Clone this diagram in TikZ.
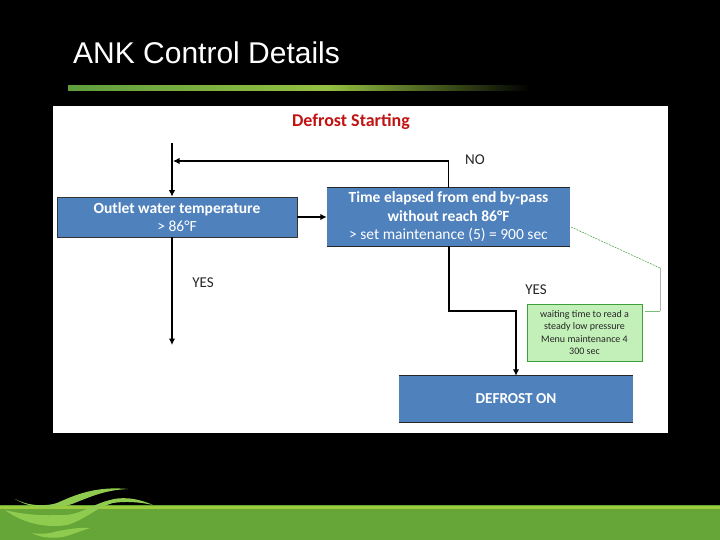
\documentclass[tikz,border=0pt]{standalone}
\usepackage{fontspec}
\setmainfont{Carlito}
\newfontfamily\titlefont{Liberation Sans}
\usepackage{xcolor}
\definecolor{ankblue}{RGB}{79,129,189}
\definecolor{ankgreen}{RGB}{195,240,185}
\definecolor{ankedge}{RGB}{60,160,60}
\definecolor{ankred}{RGB}{192,20,20}
\definecolor{ankband}{RGB}{102,165,55}
\definecolor{ankstrip}{RGB}{156,203,59}
\definecolor{ankswoosh}{RGB}{143,203,79}
\definecolor{ankbar}{RGB}{95,158,63}
\definecolor{ankbarmid}{RGB}{149,193,65}
\usetikzlibrary{arrows.meta,positioning,calc}
\tikzset{
  bluebox/.style={fill=ankblue,text=white,align=center,inner sep=0pt,font=\fontsize{15.5}{18.5}\selectfont},
  flowline/.style={-{Latex[length=6.5pt,width=6.5pt]},black,line width=1.5pt},
  mainline/.style={-{Latex[length=6.5pt,width=6.5pt]},black,line width=2pt},
  answer/.style={font=\fontsize{15}{16}\selectfont,text=black!85}
}
\begin{document}
\begin{tikzpicture}[x=1pt,y=-1pt]
  \useasboundingbox (0,0) rectangle (720,540);
  \fill[black] (0,0) rectangle (720,540);
  \node[font=\titlefont\fontsize{30}{34}\selectfont,text=white,anchor=west,inner sep=0pt] (title) at (73,53) {ANK Control Details};
  \shade[left color=ankbar,right color=ankbarmid] (68,86) rectangle (327,91);
  \shade[left color=ankbarmid,right color=black] (327,86) rectangle (530,91);
  \fill[white] (53,106) rectangle (668,433);
  \fill[ankband] (0,505) rectangle (720,540);
  \fill[ankstrip] (0,506) rectangle (720,509);
  \fill[ankswoosh] (15,499) .. controls (30,507) and (48,506) .. (57,503) .. controls (75,495) and (95,486) .. (128,489) .. controls (105,490) and (90,497) .. (77,502) .. controls (60,510) and (32,510) .. (15,499) -- cycle;
  \fill[ankswoosh] (5,510) .. controls (25,525) and (50,528) .. (67,525) .. controls (85,520) and (95,508) .. (113,503) .. controls (125,501) and (140,502) .. (153,505) .. controls (135,497) and (120,497) .. (110,500) .. controls (90,505) and (80,516) .. (60,515) .. controls (40,516) and (20,514) .. (5,510) -- cycle;
  \fill[ankswoosh] (32,533) .. controls (42,539) and (60,539) .. (70,535) .. controls (78,532) and (84,530) .. (90,528) .. controls (78,527) and (62,530) .. (50,533) .. controls (44,534) and (38,534) .. (32,533) -- cycle;
  \node[font=\bfseries\fontsize{18}{20}\selectfont,text=ankred] (start) at (351,122) {Defrost Starting};
  \node[bluebox,draw=black!80,line width=0.6pt,minimum width=240,minimum height=40] (outlet) at (177,217) {\textbf{Outlet water temperature}\\> 86°F};
  \node[bluebox,minimum width=243,minimum height=58] (time) at (448.5,217) {\textbf{Time elapsed from end by-pass}\\\textbf{without reach 86°F}\\> set maintenance (5) = 900 sec};
  \node[bluebox,font=\bfseries\fontsize{15.2}{18}\selectfont,minimum width=234,minimum height=46] (defrost) at (516,399) {DEFROST ON};
  \node[fill=ankgreen,draw=ankedge,line width=0.6pt,align=center,inner sep=0pt,minimum width=115,minimum height=57,font=\fontsize{10}{12.4}\selectfont,text=black!85] (wait) at (584.5,332.5) {waiting time to read a\\steady low pressure\\Menu maintenance 4\\300 sec};
  \node[answer] (no) at (475,160) {NO};
  \node[answer] (yesleft) at (203,283) {YES};
  \node[answer] (yesright) at (536,290) {YES};
  \foreach \n in {time,defrost}
    \draw[black!85,line width=0.8pt] (\n.north west) -- (\n.north east) (\n.south west) -- (\n.south east);
  \coordinate (inlet) at (172,143);
  \coordinate (merge) at (173,161);
  \coordinate (yesend) at (172,345);
  \coordinate (elbow) at (448.5,311);
  \coordinate (noteleft) at (571,227);
  \coordinate (noteright) at (660,268);
  \coordinate (notecorner) at (660,311);
  \coordinate (noteend) at (645,311);
  \draw[flowline] (inlet) -- (inlet |- outlet.north);
  \draw[flowline] (time.north) |- (merge);
  \draw[flowline] (outlet.east) -- (time.west);
  \draw[flowline] (yesend |- outlet.south) -- (yesend);
  \draw[mainline] (time.south) -- (elbow) -| (defrost.north);
  \draw[ankedge,dash pattern=on 2pt off 1pt,line width=0.5pt] (noteleft) -- (noteright);
  \draw[black!30,line width=0.6pt] (noteright) -- (notecorner);
  \draw[ankedge!70,line width=0.6pt] (notecorner) -- (noteend);
\end{tikzpicture}
\end{document}
